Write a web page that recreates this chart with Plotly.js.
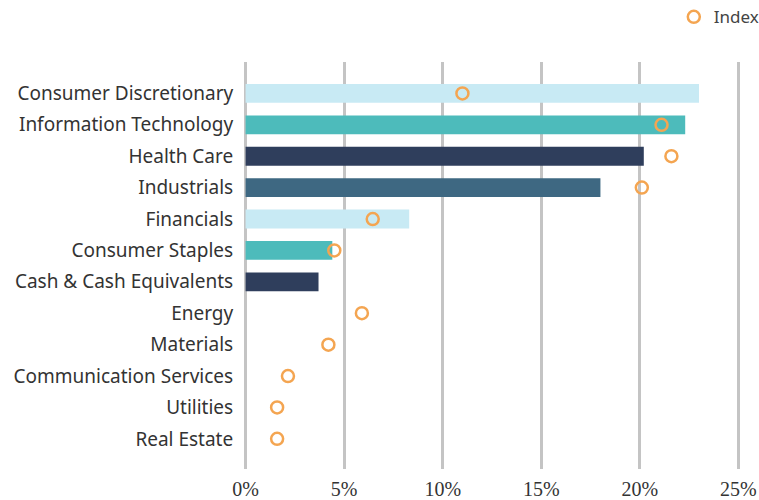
<!DOCTYPE html>
<html>
<head>
<meta charset="utf-8">
<script src="https://cdn.plot.ly/plotly-3.0.1.min.js"></script>
<style>html,body{margin:0;padding:0;background:#fff;}#chart{width:759px;height:500px;}</style>
</head>
<body>
<div id="chart"></div>
<script>
const categories = ["Consumer Discretionary","Information Technology","Health Care","Industrials","Financials","Consumer Staples","Cash & Cash Equivalents","Energy","Materials","Communication Services","Utilities","Real Estate"];
const portfolio = [23.0, 22.3, 20.2, 18.0, 8.3, 4.4, 3.7, null, null, null, null, null];
const indexWeights = [11.0, 21.1, 21.6, 20.1, 6.45, 4.5, null, 5.9, 4.2, 2.15, 1.6, 1.6];
const barColors = ["#c8eaf4","#4dbbbb","#2f3e5c","#3e6882","#c8eaf4","#4dbbbb","#2f3e5c","#3e6882","#c8eaf4","#4dbbbb","#2f3e5c","#3e6882"];
const xTicks = [0,5,10,15,20,25];
const xTickText = ["0%","5%","10%","15%","20%","25%"];

const data = [
  {type:"bar", orientation:"h", y:categories, x:portfolio, marker:{color:barColors}, width:0.6, showlegend:false, name:"Portfolio", hoverinfo:"x+y"},
  {type:"scatter", mode:"markers", y:categories, x:indexWeights, name:"Index",
   marker:{symbol:"circle-open", size:12, color:"#f4a551", line:{width:2.5, color:"#f4a551"}}}
];
const layout = {
  width:759, height:500,
  margin:{l:244.4, r:19.4, t:62, b:31, autoexpand:false},
  paper_bgcolor:"#fff", plot_bgcolor:"#fff",
  font:{family:"'Noto Sans', sans-serif", color:"#333", size:16},
  xaxis:{range:[-0.08,25.08], tickvals:xTicks, ticktext:xTickText, showgrid:true, gridcolor:"#c4c4c4", gridwidth:3,
         zeroline:false, showline:false, ticks:"outside", ticklen:2, tickcolor:"rgba(0,0,0,0)",
         tickfont:{family:"'Liberation Serif', 'DejaVu Serif', serif", size:20, color:"#333"}, fixedrange:true},
  yaxis:{type:"category", autorange:false, range:[11.96,-1.0], showgrid:false, zeroline:false, showline:false,
         ticks:"outside", ticklen:6, tickcolor:"rgba(0,0,0,0)", tickfont:{family:"'Noto Sans', sans-serif", size:19, color:"#333"}},
  legend:{x:1.048, xanchor:"right", y:1.11, yanchor:"middle", orientation:"h", font:{family:"'Noto Sans', sans-serif", size:17, color:"#444"}, bgcolor:"rgba(0,0,0,0)"},
  showlegend:true
};
Plotly.newPlot("chart", data, layout, {displayModeBar:false, staticPlot:true});
</script>
</body>
</html>
